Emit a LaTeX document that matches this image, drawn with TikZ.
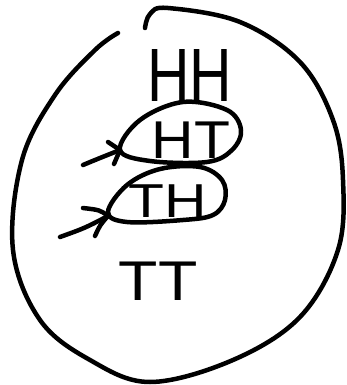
\documentclass[tikz,border=0pt]{standalone}
\usepackage{fontspec}
\setmainfont{Liberation Sans}
\begin{document}
\begin{tikzpicture}[x=1pt,y=-1pt,
  ink/.style={line width=4.5pt,line cap=round,line join=round,black},
  lbl/.style={inner sep=0pt,anchor=base,font=\fontsize{56}{56}\selectfont}]
\useasboundingbox (0,0) rectangle (346,385);
% outer set
\draw[ink] plot[smooth,tension=0.6] coordinates {(145,28) (150,14) (168,8) (240,22) (300,62) (333,120) (343,180) (338,250) (300,317) (233,360) (150,382) (90,360) (40,320) (13,250) (22,160) (55,95) (95,50) (118,33)};
% labels
\node[lbl,xscale=1.05,yscale=1.35] (hh) at (190,102) {HH};
\node[lbl,xscale=1.05,yscale=0.95] (ht) at (191,158) {HT};
\node[lbl,xscale=1.05,yscale=0.85] (th) at (168,217) {TH};
\node[lbl,xscale=1.15,yscale=1.0] (tt) at (158,300) {TT};
% HT leaf
\draw[ink] plot[smooth cycle,tension=0.6] coordinates {(120,150) (140,120) (183,102) (227,110) (241,130) (232,150) (207,162) (150,161)};
% HT tail and arrow
\coordinate (htA) at (83,165);
\coordinate (htB) at (120,150);
\draw[ink] (htA) .. controls (95,160) .. (htB);
\draw[ink] (108,142) -- (htB) -- (114,164);
% TH leaf
\draw[ink] plot[smooth cycle,tension=0.6] coordinates {(108,212) (127,185) (160,169) (200,167) (222,180) (225,200) (213,215) (183,220) (127,222)};
% TH tail and arrow
\coordinate (thA) at (60,237);
\coordinate (thB) at (108,216);
\draw[ink] (thA) .. controls (85,228) .. (thB);
\draw[ink] (83,208) .. controls (100,210) .. (thB) .. controls (100,225) .. (95,236);
\end{tikzpicture}
\end{document}
